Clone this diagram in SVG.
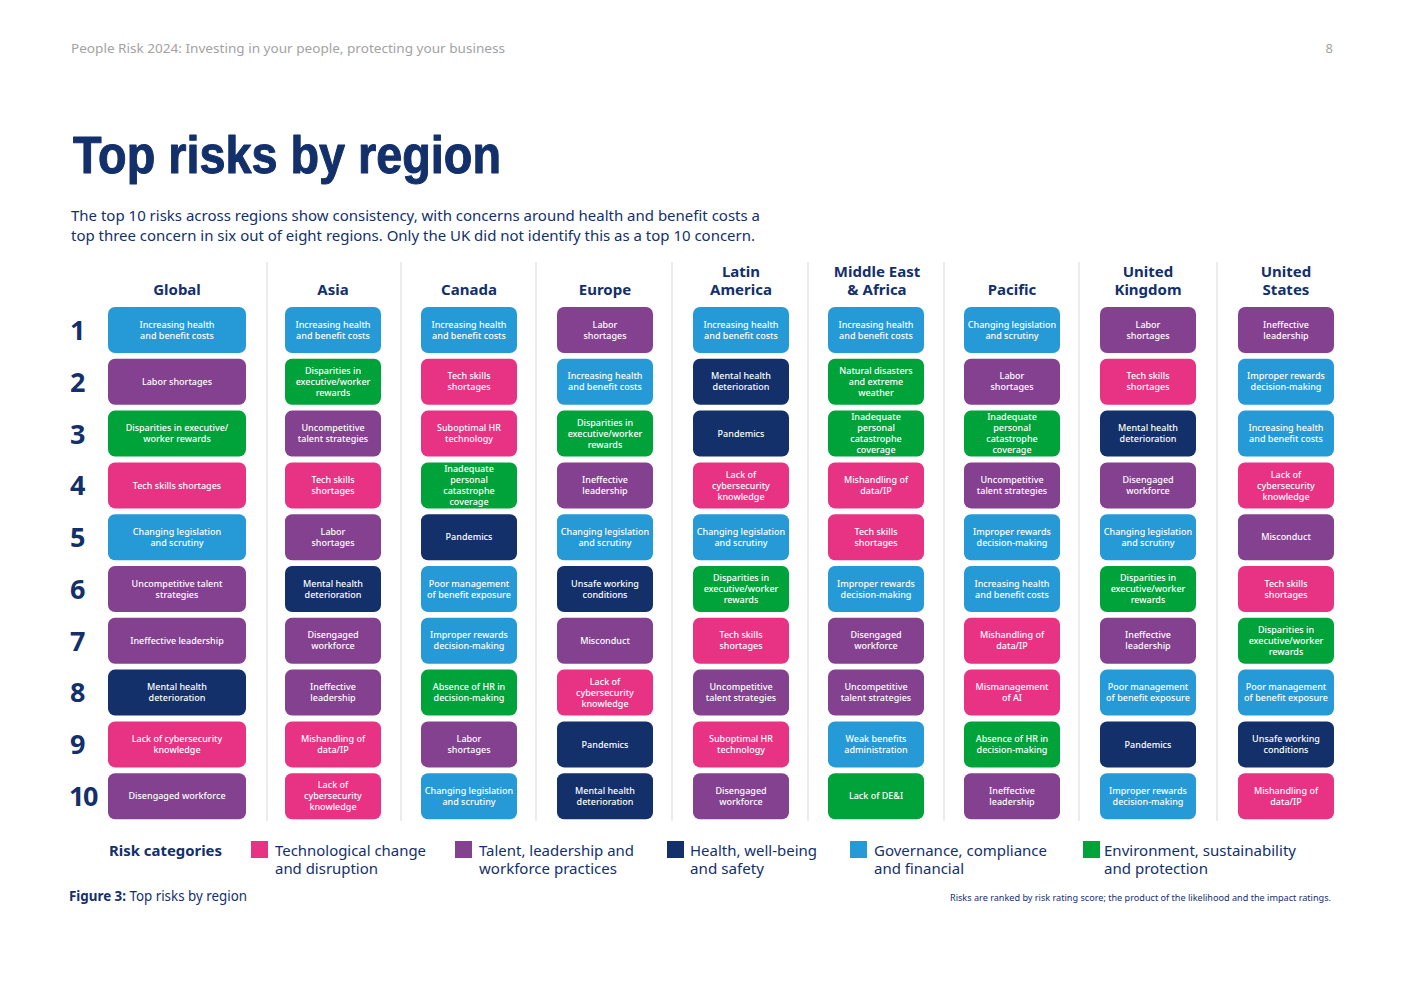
<svg xmlns="http://www.w3.org/2000/svg" width="1403" height="992" viewBox="0 0 1403 992">
<style>
text{font-family:"Noto Sans","Liberation Sans",sans-serif;}
.bg{fill:#ffffff}
.b{fill:#259ad7}.p{fill:#84418f}.g{fill:#00a33a}.k{fill:#e83283}.n{fill:#13306b}
.t{fill:#ffffff;font-size:9px;font-weight:500;text-anchor:middle}
.hd{fill:#13306b;font-size:15px;font-weight:700;text-anchor:middle}
.rk{fill:#13306b;font-size:27px;font-weight:700}
.sep{stroke:#e6e6e6;stroke-width:1.5}
.lg{fill:#13306b;font-size:15px}
.nv{fill:#13306b}
.ttl{font-family:"Liberation Sans","Noto Sans",sans-serif;font-size:51px;font-weight:700;stroke:#13306b;stroke-width:1;stroke-linejoin:round}
</style>
<rect class="bg" x="0" y="0" width="1403" height="992"/>
<g id="page-header">
<text x="71" y="53" fill="#a3a3a3" font-size="13" textLength="434" lengthAdjust="spacingAndGlyphs">People Risk 2024: Investing in your people, protecting your business</text>
<text x="1333" y="53" fill="#a3a3a3" font-size="13" text-anchor="end">8</text>
</g>
<g id="title">
<text x="73" y="173" class="nv ttl" textLength="428" lengthAdjust="spacingAndGlyphs">Top risks by region</text>
<text x="71" y="221" class="nv" font-size="15" textLength="689" lengthAdjust="spacingAndGlyphs">The top 10 risks across regions show consistency, with concerns around health and benefit costs a</text>
<text x="71" y="241" class="nv" font-size="15" textLength="684" lengthAdjust="spacingAndGlyphs">top three concern in six out of eight regions. Only the UK did not identify this as a top 10 concern.</text>
</g>
<g id="separators">
<line class="sep" x1="267" y1="262" x2="267" y2="821"/>
<line class="sep" x1="401" y1="262" x2="401" y2="821"/>
<line class="sep" x1="536" y1="262" x2="536" y2="821"/>
<line class="sep" x1="672" y1="262" x2="672" y2="821"/>
<line class="sep" x1="808" y1="262" x2="808" y2="821"/>
<line class="sep" x1="944" y1="262" x2="944" y2="821"/>
<line class="sep" x1="1079" y1="262" x2="1079" y2="821"/>
<line class="sep" x1="1217" y1="262" x2="1217" y2="821"/>
</g>
<g id="column-headers">
<text class="hd" x="177" y="295">Global</text>
<text class="hd" x="333" y="295">Asia</text>
<text class="hd" x="469" y="295">Canada</text>
<text class="hd" x="605" y="295">Europe</text>
<text class="hd" x="741" y="277">Latin</text><text class="hd" x="741" y="295">America</text>
<text class="hd" x="877" y="277">Middle East</text><text class="hd" x="877" y="295">&amp; Africa</text>
<text class="hd" x="1012" y="295">Pacific</text>
<text class="hd" x="1148" y="277">United</text><text class="hd" x="1148" y="295">Kingdom</text>
<text class="hd" x="1286" y="277">United</text><text class="hd" x="1286" y="295">States</text>
</g>
<g id="ranks">
<text class="rk" x="70" y="340">1</text>
<text class="rk" x="70" y="391.5">2</text>
<text class="rk" x="70" y="443.5">3</text>
<text class="rk" x="70" y="495">4</text>
<text class="rk" x="70" y="547">5</text>
<text class="rk" x="70" y="598.5">6</text>
<text class="rk" x="70" y="650.5">7</text>
<text class="rk" x="70" y="702">8</text>
<text class="rk" x="70" y="754">9</text>
<text class="rk" x="69" y="806" letter-spacing="-1.5">10</text>
</g>

<!-- Global -->
<g id="global-1" transform="translate(108,307)"><rect class="b" width="138" height="46" rx="7"/><text class="t"><tspan x="69" y="20.7">Increasing health</tspan><tspan x="69" y="31.7">and benefit costs</tspan></text></g>
<g id="global-2" transform="translate(108,358.8)"><rect class="p" width="138" height="46" rx="7"/><text class="t" x="69" y="26.2">Labor shortages</text></g>
<g id="global-3" transform="translate(108,410.6)"><rect class="g" width="138" height="46" rx="7"/><text class="t"><tspan x="69" y="20.7">Disparities in executive/</tspan><tspan x="69" y="31.7">worker rewards</tspan></text></g>
<g id="global-4" transform="translate(108,462.4)"><rect class="k" width="138" height="46" rx="7"/><text class="t" x="69" y="26.2">Tech skills shortages</text></g>
<g id="global-5" transform="translate(108,514.2)"><rect class="b" width="138" height="46" rx="7"/><text class="t"><tspan x="69" y="20.7">Changing legislation</tspan><tspan x="69" y="31.7">and scrutiny</tspan></text></g>
<g id="global-6" transform="translate(108,566)"><rect class="p" width="138" height="46" rx="7"/><text class="t"><tspan x="69" y="20.7">Uncompetitive talent</tspan><tspan x="69" y="31.7">strategies</tspan></text></g>
<g id="global-7" transform="translate(108,617.8)"><rect class="p" width="138" height="46" rx="7"/><text class="t" x="69" y="26.2">Ineffective leadership</text></g>
<g id="global-8" transform="translate(108,669.6)"><rect class="n" width="138" height="46" rx="7"/><text class="t"><tspan x="69" y="20.7">Mental health</tspan><tspan x="69" y="31.7">deterioration</tspan></text></g>
<g id="global-9" transform="translate(108,721.4)"><rect class="k" width="138" height="46" rx="7"/><text class="t"><tspan x="69" y="20.7">Lack of cybersecurity</tspan><tspan x="69" y="31.7">knowledge</tspan></text></g>
<g id="global-10" transform="translate(108,773.2)"><rect class="p" width="138" height="46" rx="7"/><text class="t" x="69" y="26.2">Disengaged workforce</text></g>

<!-- Asia -->
<g id="asia-1" transform="translate(285,307)"><rect class="b" width="96" height="46" rx="7"/><text class="t"><tspan x="48" y="20.7">Increasing health</tspan><tspan x="48" y="31.7">and benefit costs</tspan></text></g>
<g id="asia-2" transform="translate(285,358.8)"><rect class="g" width="96" height="46" rx="7"/><text class="t"><tspan x="48" y="15.2">Disparities in</tspan><tspan x="48" y="26.2">executive/worker</tspan><tspan x="48" y="37.2">rewards</tspan></text></g>
<g id="asia-3" transform="translate(285,410.6)"><rect class="p" width="96" height="46" rx="7"/><text class="t"><tspan x="48" y="20.7">Uncompetitive</tspan><tspan x="48" y="31.7">talent strategies</tspan></text></g>
<g id="asia-4" transform="translate(285,462.4)"><rect class="k" width="96" height="46" rx="7"/><text class="t"><tspan x="48" y="20.7">Tech skills</tspan><tspan x="48" y="31.7">shortages</tspan></text></g>
<g id="asia-5" transform="translate(285,514.2)"><rect class="p" width="96" height="46" rx="7"/><text class="t"><tspan x="48" y="20.7">Labor</tspan><tspan x="48" y="31.7">shortages</tspan></text></g>
<g id="asia-6" transform="translate(285,566)"><rect class="n" width="96" height="46" rx="7"/><text class="t"><tspan x="48" y="20.7">Mental health</tspan><tspan x="48" y="31.7">deterioration</tspan></text></g>
<g id="asia-7" transform="translate(285,617.8)"><rect class="p" width="96" height="46" rx="7"/><text class="t"><tspan x="48" y="20.7">Disengaged</tspan><tspan x="48" y="31.7">workforce</tspan></text></g>
<g id="asia-8" transform="translate(285,669.6)"><rect class="p" width="96" height="46" rx="7"/><text class="t"><tspan x="48" y="20.7">Ineffective</tspan><tspan x="48" y="31.7">leadership</tspan></text></g>
<g id="asia-9" transform="translate(285,721.4)"><rect class="k" width="96" height="46" rx="7"/><text class="t"><tspan x="48" y="20.7">Mishandling of</tspan><tspan x="48" y="31.7">data/IP</tspan></text></g>
<g id="asia-10" transform="translate(285,773.2)"><rect class="k" width="96" height="46" rx="7"/><text class="t"><tspan x="48" y="15.2">Lack of</tspan><tspan x="48" y="26.2">cybersecurity</tspan><tspan x="48" y="37.2">knowledge</tspan></text></g>

<!-- Canada -->
<g id="canada-1" transform="translate(421,307)"><rect class="b" width="96" height="46" rx="7"/><text class="t"><tspan x="48" y="20.7">Increasing health</tspan><tspan x="48" y="31.7">and benefit costs</tspan></text></g>
<g id="canada-2" transform="translate(421,358.8)"><rect class="k" width="96" height="46" rx="7"/><text class="t"><tspan x="48" y="20.7">Tech skills</tspan><tspan x="48" y="31.7">shortages</tspan></text></g>
<g id="canada-3" transform="translate(421,410.6)"><rect class="k" width="96" height="46" rx="7"/><text class="t"><tspan x="48" y="20.7">Suboptimal HR</tspan><tspan x="48" y="31.7">technology</tspan></text></g>
<g id="canada-4" transform="translate(421,462.4)"><rect class="g" width="96" height="46" rx="7"/><text class="t"><tspan x="48" y="9.7">Inadequate</tspan><tspan x="48" y="20.7">personal</tspan><tspan x="48" y="31.7">catastrophe</tspan><tspan x="48" y="42.7">coverage</tspan></text></g>
<g id="canada-5" transform="translate(421,514.2)"><rect class="n" width="96" height="46" rx="7"/><text class="t" x="48" y="26.2">Pandemics</text></g>
<g id="canada-6" transform="translate(421,566)"><rect class="b" width="96" height="46" rx="7"/><text class="t"><tspan x="48" y="20.7">Poor management</tspan><tspan x="48" y="31.7">of benefit exposure</tspan></text></g>
<g id="canada-7" transform="translate(421,617.8)"><rect class="b" width="96" height="46" rx="7"/><text class="t"><tspan x="48" y="20.7">Improper rewards</tspan><tspan x="48" y="31.7">decision-making</tspan></text></g>
<g id="canada-8" transform="translate(421,669.6)"><rect class="g" width="96" height="46" rx="7"/><text class="t"><tspan x="48" y="20.7">Absence of HR in</tspan><tspan x="48" y="31.7">decision-making</tspan></text></g>
<g id="canada-9" transform="translate(421,721.4)"><rect class="p" width="96" height="46" rx="7"/><text class="t"><tspan x="48" y="20.7">Labor</tspan><tspan x="48" y="31.7">shortages</tspan></text></g>
<g id="canada-10" transform="translate(421,773.2)"><rect class="b" width="96" height="46" rx="7"/><text class="t"><tspan x="48" y="20.7">Changing legislation</tspan><tspan x="48" y="31.7">and scrutiny</tspan></text></g>

<!-- Europe -->
<g id="europe-1" transform="translate(557,307)"><rect class="p" width="96" height="46" rx="7"/><text class="t"><tspan x="48" y="20.7">Labor</tspan><tspan x="48" y="31.7">shortages</tspan></text></g>
<g id="europe-2" transform="translate(557,358.8)"><rect class="b" width="96" height="46" rx="7"/><text class="t"><tspan x="48" y="20.7">Increasing health</tspan><tspan x="48" y="31.7">and benefit costs</tspan></text></g>
<g id="europe-3" transform="translate(557,410.6)"><rect class="g" width="96" height="46" rx="7"/><text class="t"><tspan x="48" y="15.2">Disparities in</tspan><tspan x="48" y="26.2">executive/worker</tspan><tspan x="48" y="37.2">rewards</tspan></text></g>
<g id="europe-4" transform="translate(557,462.4)"><rect class="p" width="96" height="46" rx="7"/><text class="t"><tspan x="48" y="20.7">Ineffective</tspan><tspan x="48" y="31.7">leadership</tspan></text></g>
<g id="europe-5" transform="translate(557,514.2)"><rect class="b" width="96" height="46" rx="7"/><text class="t"><tspan x="48" y="20.7">Changing legislation</tspan><tspan x="48" y="31.7">and scrutiny</tspan></text></g>
<g id="europe-6" transform="translate(557,566)"><rect class="n" width="96" height="46" rx="7"/><text class="t"><tspan x="48" y="20.7">Unsafe working</tspan><tspan x="48" y="31.7">conditions</tspan></text></g>
<g id="europe-7" transform="translate(557,617.8)"><rect class="p" width="96" height="46" rx="7"/><text class="t" x="48" y="26.2">Misconduct</text></g>
<g id="europe-8" transform="translate(557,669.6)"><rect class="k" width="96" height="46" rx="7"/><text class="t"><tspan x="48" y="15.2">Lack of</tspan><tspan x="48" y="26.2">cybersecurity</tspan><tspan x="48" y="37.2">knowledge</tspan></text></g>
<g id="europe-9" transform="translate(557,721.4)"><rect class="n" width="96" height="46" rx="7"/><text class="t" x="48" y="26.2">Pandemics</text></g>
<g id="europe-10" transform="translate(557,773.2)"><rect class="n" width="96" height="46" rx="7"/><text class="t"><tspan x="48" y="20.7">Mental health</tspan><tspan x="48" y="31.7">deterioration</tspan></text></g>

<!-- Latin America -->
<g id="latam-1" transform="translate(693,307)"><rect class="b" width="96" height="46" rx="7"/><text class="t"><tspan x="48" y="20.7">Increasing health</tspan><tspan x="48" y="31.7">and benefit costs</tspan></text></g>
<g id="latam-2" transform="translate(693,358.8)"><rect class="n" width="96" height="46" rx="7"/><text class="t"><tspan x="48" y="20.7">Mental health</tspan><tspan x="48" y="31.7">deterioration</tspan></text></g>
<g id="latam-3" transform="translate(693,410.6)"><rect class="n" width="96" height="46" rx="7"/><text class="t" x="48" y="26.2">Pandemics</text></g>
<g id="latam-4" transform="translate(693,462.4)"><rect class="k" width="96" height="46" rx="7"/><text class="t"><tspan x="48" y="15.2">Lack of</tspan><tspan x="48" y="26.2">cybersecurity</tspan><tspan x="48" y="37.2">knowledge</tspan></text></g>
<g id="latam-5" transform="translate(693,514.2)"><rect class="b" width="96" height="46" rx="7"/><text class="t"><tspan x="48" y="20.7">Changing legislation</tspan><tspan x="48" y="31.7">and scrutiny</tspan></text></g>
<g id="latam-6" transform="translate(693,566)"><rect class="g" width="96" height="46" rx="7"/><text class="t"><tspan x="48" y="15.2">Disparities in</tspan><tspan x="48" y="26.2">executive/worker</tspan><tspan x="48" y="37.2">rewards</tspan></text></g>
<g id="latam-7" transform="translate(693,617.8)"><rect class="k" width="96" height="46" rx="7"/><text class="t"><tspan x="48" y="20.7">Tech skills</tspan><tspan x="48" y="31.7">shortages</tspan></text></g>
<g id="latam-8" transform="translate(693,669.6)"><rect class="p" width="96" height="46" rx="7"/><text class="t"><tspan x="48" y="20.7">Uncompetitive</tspan><tspan x="48" y="31.7">talent strategies</tspan></text></g>
<g id="latam-9" transform="translate(693,721.4)"><rect class="k" width="96" height="46" rx="7"/><text class="t"><tspan x="48" y="20.7">Suboptimal HR</tspan><tspan x="48" y="31.7">technology</tspan></text></g>
<g id="latam-10" transform="translate(693,773.2)"><rect class="p" width="96" height="46" rx="7"/><text class="t"><tspan x="48" y="20.7">Disengaged</tspan><tspan x="48" y="31.7">workforce</tspan></text></g>

<!-- Middle East & Africa -->
<g id="mea-1" transform="translate(828,307)"><rect class="b" width="96" height="46" rx="7"/><text class="t"><tspan x="48" y="20.7">Increasing health</tspan><tspan x="48" y="31.7">and benefit costs</tspan></text></g>
<g id="mea-2" transform="translate(828,358.8)"><rect class="g" width="96" height="46" rx="7"/><text class="t"><tspan x="48" y="15.2">Natural disasters</tspan><tspan x="48" y="26.2">and extreme</tspan><tspan x="48" y="37.2">weather</tspan></text></g>
<g id="mea-3" transform="translate(828,410.6)"><rect class="g" width="96" height="46" rx="7"/><text class="t"><tspan x="48" y="9.7">Inadequate</tspan><tspan x="48" y="20.7">personal</tspan><tspan x="48" y="31.7">catastrophe</tspan><tspan x="48" y="42.7">coverage</tspan></text></g>
<g id="mea-4" transform="translate(828,462.4)"><rect class="k" width="96" height="46" rx="7"/><text class="t"><tspan x="48" y="20.7">Mishandling of</tspan><tspan x="48" y="31.7">data/IP</tspan></text></g>
<g id="mea-5" transform="translate(828,514.2)"><rect class="k" width="96" height="46" rx="7"/><text class="t"><tspan x="48" y="20.7">Tech skills</tspan><tspan x="48" y="31.7">shortages</tspan></text></g>
<g id="mea-6" transform="translate(828,566)"><rect class="b" width="96" height="46" rx="7"/><text class="t"><tspan x="48" y="20.7">Improper rewards</tspan><tspan x="48" y="31.7">decision-making</tspan></text></g>
<g id="mea-7" transform="translate(828,617.8)"><rect class="p" width="96" height="46" rx="7"/><text class="t"><tspan x="48" y="20.7">Disengaged</tspan><tspan x="48" y="31.7">workforce</tspan></text></g>
<g id="mea-8" transform="translate(828,669.6)"><rect class="p" width="96" height="46" rx="7"/><text class="t"><tspan x="48" y="20.7">Uncompetitive</tspan><tspan x="48" y="31.7">talent strategies</tspan></text></g>
<g id="mea-9" transform="translate(828,721.4)"><rect class="b" width="96" height="46" rx="7"/><text class="t"><tspan x="48" y="20.7">Weak benefits</tspan><tspan x="48" y="31.7">administration</tspan></text></g>
<g id="mea-10" transform="translate(828,773.2)"><rect class="g" width="96" height="46" rx="7"/><text class="t" x="48" y="26.2">Lack of DE&amp;I</text></g>

<!-- Pacific -->
<g id="pacific-1" transform="translate(964,307)"><rect class="b" width="96" height="46" rx="7"/><text class="t"><tspan x="48" y="20.7">Changing legislation</tspan><tspan x="48" y="31.7">and scrutiny</tspan></text></g>
<g id="pacific-2" transform="translate(964,358.8)"><rect class="p" width="96" height="46" rx="7"/><text class="t"><tspan x="48" y="20.7">Labor</tspan><tspan x="48" y="31.7">shortages</tspan></text></g>
<g id="pacific-3" transform="translate(964,410.6)"><rect class="g" width="96" height="46" rx="7"/><text class="t"><tspan x="48" y="9.7">Inadequate</tspan><tspan x="48" y="20.7">personal</tspan><tspan x="48" y="31.7">catastrophe</tspan><tspan x="48" y="42.7">coverage</tspan></text></g>
<g id="pacific-4" transform="translate(964,462.4)"><rect class="p" width="96" height="46" rx="7"/><text class="t"><tspan x="48" y="20.7">Uncompetitive</tspan><tspan x="48" y="31.7">talent strategies</tspan></text></g>
<g id="pacific-5" transform="translate(964,514.2)"><rect class="b" width="96" height="46" rx="7"/><text class="t"><tspan x="48" y="20.7">Improper rewards</tspan><tspan x="48" y="31.7">decision-making</tspan></text></g>
<g id="pacific-6" transform="translate(964,566)"><rect class="b" width="96" height="46" rx="7"/><text class="t"><tspan x="48" y="20.7">Increasing health</tspan><tspan x="48" y="31.7">and benefit costs</tspan></text></g>
<g id="pacific-7" transform="translate(964,617.8)"><rect class="k" width="96" height="46" rx="7"/><text class="t"><tspan x="48" y="20.7">Mishandling of</tspan><tspan x="48" y="31.7">data/IP</tspan></text></g>
<g id="pacific-8" transform="translate(964,669.6)"><rect class="k" width="96" height="46" rx="7"/><text class="t"><tspan x="48" y="20.7">Mismanagement</tspan><tspan x="48" y="31.7">of AI</tspan></text></g>
<g id="pacific-9" transform="translate(964,721.4)"><rect class="g" width="96" height="46" rx="7"/><text class="t"><tspan x="48" y="20.7">Absence of HR in</tspan><tspan x="48" y="31.7">decision-making</tspan></text></g>
<g id="pacific-10" transform="translate(964,773.2)"><rect class="p" width="96" height="46" rx="7"/><text class="t"><tspan x="48" y="20.7">Ineffective</tspan><tspan x="48" y="31.7">leadership</tspan></text></g>

<!-- United Kingdom -->
<g id="uk-1" transform="translate(1100,307)"><rect class="p" width="96" height="46" rx="7"/><text class="t"><tspan x="48" y="20.7">Labor</tspan><tspan x="48" y="31.7">shortages</tspan></text></g>
<g id="uk-2" transform="translate(1100,358.8)"><rect class="k" width="96" height="46" rx="7"/><text class="t"><tspan x="48" y="20.7">Tech skills</tspan><tspan x="48" y="31.7">shortages</tspan></text></g>
<g id="uk-3" transform="translate(1100,410.6)"><rect class="n" width="96" height="46" rx="7"/><text class="t"><tspan x="48" y="20.7">Mental health</tspan><tspan x="48" y="31.7">deterioration</tspan></text></g>
<g id="uk-4" transform="translate(1100,462.4)"><rect class="p" width="96" height="46" rx="7"/><text class="t"><tspan x="48" y="20.7">Disengaged</tspan><tspan x="48" y="31.7">workforce</tspan></text></g>
<g id="uk-5" transform="translate(1100,514.2)"><rect class="b" width="96" height="46" rx="7"/><text class="t"><tspan x="48" y="20.7">Changing legislation</tspan><tspan x="48" y="31.7">and scrutiny</tspan></text></g>
<g id="uk-6" transform="translate(1100,566)"><rect class="g" width="96" height="46" rx="7"/><text class="t"><tspan x="48" y="15.2">Disparities in</tspan><tspan x="48" y="26.2">executive/worker</tspan><tspan x="48" y="37.2">rewards</tspan></text></g>
<g id="uk-7" transform="translate(1100,617.8)"><rect class="p" width="96" height="46" rx="7"/><text class="t"><tspan x="48" y="20.7">Ineffective</tspan><tspan x="48" y="31.7">leadership</tspan></text></g>
<g id="uk-8" transform="translate(1100,669.6)"><rect class="b" width="96" height="46" rx="7"/><text class="t"><tspan x="48" y="20.7">Poor management</tspan><tspan x="48" y="31.7">of benefit exposure</tspan></text></g>
<g id="uk-9" transform="translate(1100,721.4)"><rect class="n" width="96" height="46" rx="7"/><text class="t" x="48" y="26.2">Pandemics</text></g>
<g id="uk-10" transform="translate(1100,773.2)"><rect class="b" width="96" height="46" rx="7"/><text class="t"><tspan x="48" y="20.7">Improper rewards</tspan><tspan x="48" y="31.7">decision-making</tspan></text></g>

<!-- United States -->
<g id="us-1" transform="translate(1238,307)"><rect class="p" width="96" height="46" rx="7"/><text class="t"><tspan x="48" y="20.7">Ineffective</tspan><tspan x="48" y="31.7">leadership</tspan></text></g>
<g id="us-2" transform="translate(1238,358.8)"><rect class="b" width="96" height="46" rx="7"/><text class="t"><tspan x="48" y="20.7">Improper rewards</tspan><tspan x="48" y="31.7">decision-making</tspan></text></g>
<g id="us-3" transform="translate(1238,410.6)"><rect class="b" width="96" height="46" rx="7"/><text class="t"><tspan x="48" y="20.7">Increasing health</tspan><tspan x="48" y="31.7">and benefit costs</tspan></text></g>
<g id="us-4" transform="translate(1238,462.4)"><rect class="k" width="96" height="46" rx="7"/><text class="t"><tspan x="48" y="15.2">Lack of</tspan><tspan x="48" y="26.2">cybersecurity</tspan><tspan x="48" y="37.2">knowledge</tspan></text></g>
<g id="us-5" transform="translate(1238,514.2)"><rect class="p" width="96" height="46" rx="7"/><text class="t" x="48" y="26.2">Misconduct</text></g>
<g id="us-6" transform="translate(1238,566)"><rect class="k" width="96" height="46" rx="7"/><text class="t"><tspan x="48" y="20.7">Tech skills</tspan><tspan x="48" y="31.7">shortages</tspan></text></g>
<g id="us-7" transform="translate(1238,617.8)"><rect class="g" width="96" height="46" rx="7"/><text class="t"><tspan x="48" y="15.2">Disparities in</tspan><tspan x="48" y="26.2">executive/worker</tspan><tspan x="48" y="37.2">rewards</tspan></text></g>
<g id="us-8" transform="translate(1238,669.6)"><rect class="b" width="96" height="46" rx="7"/><text class="t"><tspan x="48" y="20.7">Poor management</tspan><tspan x="48" y="31.7">of benefit exposure</tspan></text></g>
<g id="us-9" transform="translate(1238,721.4)"><rect class="n" width="96" height="46" rx="7"/><text class="t"><tspan x="48" y="20.7">Unsafe working</tspan><tspan x="48" y="31.7">conditions</tspan></text></g>
<g id="us-10" transform="translate(1238,773.2)"><rect class="k" width="96" height="46" rx="7"/><text class="t"><tspan x="48" y="20.7">Mishandling of</tspan><tspan x="48" y="31.7">data/IP</tspan></text></g>

<g id="legend">
<text x="109" y="856" class="nv" font-size="15" font-weight="700" textLength="113" lengthAdjust="spacingAndGlyphs">Risk categories</text>
<rect class="k" x="251" y="841" width="17" height="17"/>
<text class="lg" x="275" y="856" textLength="151" lengthAdjust="spacingAndGlyphs">Technological change</text>
<text class="lg" x="275" y="874" textLength="103" lengthAdjust="spacingAndGlyphs">and disruption</text>
<rect class="p" x="455" y="841" width="17" height="17"/>
<text class="lg" x="479" y="856" textLength="155" lengthAdjust="spacingAndGlyphs">Talent, leadership and</text>
<text class="lg" x="479" y="874" textLength="138" lengthAdjust="spacingAndGlyphs">workforce practices</text>
<rect class="n" x="667" y="841" width="17" height="17"/>
<text class="lg" x="690" y="856" textLength="127" lengthAdjust="spacingAndGlyphs">Health, well-being</text>
<text class="lg" x="690" y="874" textLength="74" lengthAdjust="spacingAndGlyphs">and safety</text>
<rect class="b" x="850" y="841" width="17" height="17"/>
<text class="lg" x="874" y="856" textLength="173" lengthAdjust="spacingAndGlyphs">Governance, compliance</text>
<text class="lg" x="874" y="874" textLength="90" lengthAdjust="spacingAndGlyphs">and financial</text>
<rect class="g" x="1083" y="841" width="17" height="17"/>
<text class="lg" x="1104" y="856" textLength="192" lengthAdjust="spacingAndGlyphs">Environment, sustainability</text>
<text class="lg" x="1104" y="874" textLength="104" lengthAdjust="spacingAndGlyphs">and protection</text>
</g>
<g id="footer">
<text x="69" y="901" class="nv" font-size="13.5" textLength="178" lengthAdjust="spacingAndGlyphs"><tspan font-weight="700">Figure 3:</tspan> Top risks by region</text>
<text x="950" y="901" class="nv" font-size="8.5" textLength="381" lengthAdjust="spacingAndGlyphs">Risks are ranked by risk rating score; the product of the likelihood and the impact ratings.</text>
</g>
</svg>
